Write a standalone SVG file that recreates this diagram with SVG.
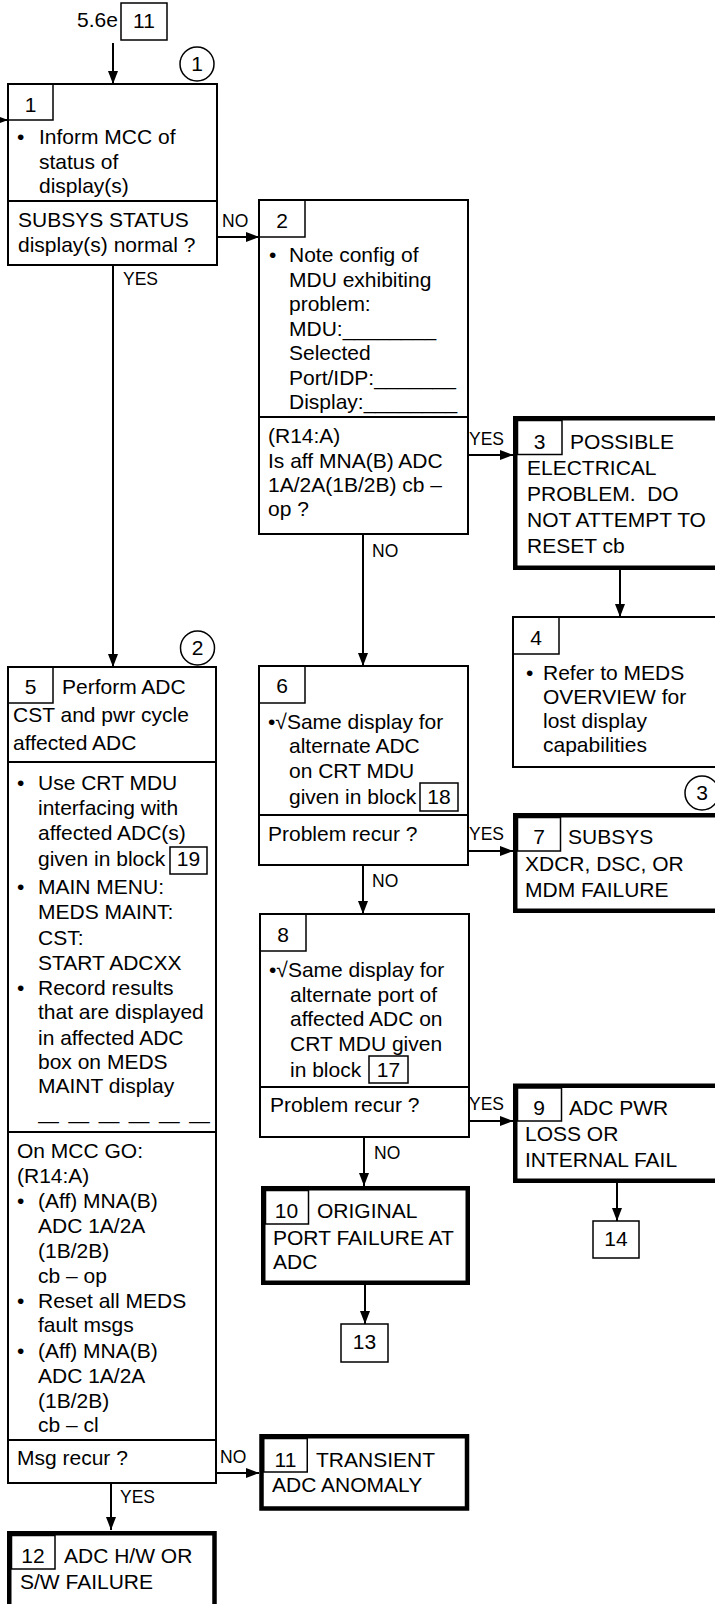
<svg xmlns="http://www.w3.org/2000/svg" width="715" height="1604" viewBox="0 0 715 1604">
<defs>
<marker id="ah" markerUnits="userSpaceOnUse" markerWidth="13" markerHeight="10" refX="13" refY="5" orient="auto">
<path d="M0,0 L13,5 L0,10 z" fill="#000"/>
</marker>
<style>
text{font-family:"Liberation Sans",Arial,sans-serif;font-size:21px;fill:#000}
.lbl{font-size:17.5px}
.c{text-anchor:middle}
.box{fill:#fff;stroke:#000;stroke-width:2}
.thick{fill:#fff;stroke:#000;stroke-width:4.5}
.tag{fill:none;stroke:#000;stroke-width:1.5}
.div{stroke:#000;stroke-width:2}
.conn{fill:none;stroke:#000;stroke-width:2;marker-end:url(#ah)}
.circ{fill:#fff;stroke:#000;stroke-width:1.5}
.pre{white-space:pre}
</style>
</defs>
<rect width="715" height="1604" fill="#fff"/>

<g id="connectors">
<path class="conn" d="M113 43 V84"/>
<path class="conn" d="M-10 120 H8"/>
<path class="conn" d="M217 237 H259"/>
<path class="conn" d="M113 265 V667"/>
<path class="conn" d="M468 455 H513"/>
<path class="conn" d="M363 534 V666"/>
<path class="conn" d="M620 570 V617"/>
<path class="conn" d="M468 851 H513"/>
<path class="conn" d="M363 865 V914"/>
<path class="conn" d="M469 1121 H513"/>
<path class="conn" d="M364 1137 V1186"/>
<path class="conn" d="M617 1183 V1221"/>
<path class="conn" d="M365 1285 V1324"/>
<path class="conn" d="M216 1473 H259"/>
<path class="conn" d="M111 1483 V1530"/>
<text class="lbl" x="222" y="227">NO</text>
<text class="lbl" x="123" y="285">YES</text>
<text class="lbl" x="469" y="445">YES</text>
<text class="lbl" x="372" y="557">NO</text>
<text class="lbl" x="469" y="840">YES</text>
<text class="lbl" x="372" y="887">NO</text>
<text class="lbl" x="469" y="1110">YES</text>
<text class="lbl" x="374" y="1159">NO</text>
<text class="lbl" x="220" y="1463">NO</text>
<text class="lbl" x="120" y="1503">YES</text>
</g>

<g id="entry">
<text x="77" y="27">5.6e</text>
<rect class="tag" x="121" y="3" width="46" height="37"/>
<text class="c" x="144" y="28">11</text>
</g>

<g id="circle1">
<circle class="circ" cx="197" cy="64" r="17"/>
<text class="c" x="197" y="71">1</text>
</g>

<g id="node1">
<rect class="box" x="8" y="84" width="209" height="181"/>
<rect class="tag" x="8" y="84" width="45" height="36"/>
<line class="div" x1="8" y1="201" x2="217" y2="201"/>
<text class="c" x="30.5" y="112">1</text>
<text x="17" y="144">•</text>
<text x="39" y="144">Inform MCC of</text>
<text x="39" y="168.5">status of</text>
<text x="39" y="193">display(s)</text>
<text x="18" y="227">SUBSYS STATUS</text>
<text x="18" y="252">display(s) normal ?</text>
</g>

<g id="node2">
<rect class="box" x="259" y="200" width="209" height="334"/>
<rect class="tag" x="259" y="200" width="46" height="37"/>
<line class="div" x1="259" y1="417" x2="468" y2="417"/>
<text class="c" x="282" y="228">2</text>
<text x="269" y="262">•</text>
<text x="289" y="262">Note config of</text>
<text x="289" y="286.5">MDU exhibiting</text>
<text x="289" y="311">problem:</text>
<text x="289" y="335.5">MDU:________</text>
<text x="289" y="360">Selected</text>
<text x="289" y="384.5">Port/IDP:_______</text>
<text x="289" y="409">Display:________</text>
<text x="268" y="443">(R14:A)</text>
<text x="268" y="467.5">Is aff MNA(B) ADC</text>
<text x="268" y="492">1A/2A(1B/2B) cb –</text>
<text x="268" y="516">op ?</text>
</g>

<g id="node3">
<rect class="thick" x="515.25" y="418.25" width="212" height="149.5"/>
<rect class="tag" x="517.5" y="420.5" width="44.5" height="34"/>
<text class="c" x="539.5" y="449">3</text>
<text x="570" y="449">POSSIBLE</text>
<text x="527" y="475">ELECTRICAL</text>
<text class="pre" x="527" y="501" xml:space="preserve">PROBLEM.  DO</text>
<text x="527" y="527">NOT ATTEMPT TO</text>
<text x="527" y="553">RESET cb</text>
</g>

<g id="node4">
<rect class="box" x="513" y="617" width="212" height="150"/>
<rect class="tag" x="513" y="617" width="46" height="37"/>
<text class="c" x="536" y="645">4</text>
<text x="526" y="680">•</text>
<text x="543" y="680">Refer to MEDS</text>
<text x="543" y="704">OVERVIEW for</text>
<text x="543" y="728">lost display</text>
<text x="543" y="752">capabilities</text>
</g>

<g id="circle3">
<circle class="circ" cx="702" cy="793" r="17"/>
<text class="c" x="702" y="800">3</text>
</g>

<g id="circle2">
<circle class="circ" cx="197.5" cy="648" r="17"/>
<text class="c" x="197.5" y="655">2</text>
</g>

<g id="node5">
<rect class="box" x="8" y="667" width="208" height="816"/>
<rect class="tag" x="8" y="667" width="45" height="36"/>
<line class="div" x1="8" y1="762" x2="216" y2="762"/>
<line class="div" x1="8" y1="1132" x2="216" y2="1132"/>
<line class="div" x1="8" y1="1440" x2="216" y2="1440"/>
<text class="c" x="30.5" y="694">5</text>
<text x="62" y="694">Perform ADC</text>
<text x="13" y="722">CST and pwr cycle</text>
<text x="13" y="750">affected ADC</text>
<text x="17" y="790">•</text>
<text x="38" y="790">Use CRT MDU</text>
<text x="38" y="815">interfacing with</text>
<text x="38" y="840">affected ADC(s)</text>
<text x="38" y="866">given in block</text>
<rect class="tag" x="170" y="847" width="37" height="27"/>
<text class="c" x="188.5" y="866">19</text>
<text x="17" y="894">•</text>
<text x="38" y="894">MAIN MENU:</text>
<text x="38" y="919">MEDS MAINT:</text>
<text x="38" y="944.5">CST:</text>
<text x="38" y="970">START ADCXX</text>
<text x="17" y="995">•</text>
<text x="38" y="995">Record results</text>
<text x="38" y="1019">that are displayed</text>
<text x="38" y="1044.5">in affected ADC</text>
<text x="38" y="1068.5">box on MEDS</text>
<text x="38" y="1093">MAINT display</text>
<text x="38" y="1128" textLength="172" lengthAdjust="spacing">— — — — — —</text>
<text x="17" y="1158">On MCC GO:</text>
<text x="17" y="1183">(R14:A)</text>
<text x="17" y="1208">•</text>
<text x="38" y="1208">(Aff) MNA(B)</text>
<text x="38" y="1233">ADC 1A/2A</text>
<text x="38" y="1258">(1B/2B)</text>
<text x="38" y="1282.5">cb – op</text>
<text x="17" y="1308">•</text>
<text x="38" y="1308">Reset all MEDS</text>
<text x="38" y="1332">fault msgs</text>
<text x="17" y="1358">•</text>
<text x="38" y="1358">(Aff) MNA(B)</text>
<text x="38" y="1383">ADC 1A/2A</text>
<text x="38" y="1408">(1B/2B)</text>
<text x="38" y="1432">cb – cl</text>
<text x="17" y="1465">Msg recur ?</text>
</g>

<g id="node6">
<rect class="box" x="259" y="666" width="209" height="199"/>
<rect class="tag" x="259" y="666" width="46" height="37"/>
<line class="div" x1="259" y1="815" x2="468" y2="815"/>
<text class="c" x="282" y="693">6</text>
<text x="268" y="729">•√Same display for</text>
<text x="289" y="753">alternate ADC</text>
<text x="289" y="778">on CRT MDU</text>
<text x="289" y="804">given in block</text>
<rect class="tag" x="420" y="783" width="38" height="28"/>
<text class="c" x="439" y="804">18</text>
<text x="268" y="840.5">Problem recur ?</text>
</g>

<g id="node7">
<rect class="thick" x="515.25" y="815.25" width="212" height="95.5"/>
<rect class="tag" x="517.5" y="817.5" width="43" height="33.5"/>
<text class="c" x="539" y="844">7</text>
<text x="568" y="844">SUBSYS</text>
<text x="525" y="870.5">XDCR, DSC, OR</text>
<text x="525" y="897">MDM FAILURE</text>
</g>

<g id="node8">
<rect class="box" x="260" y="914" width="209" height="223"/>
<rect class="tag" x="260" y="914" width="46" height="37"/>
<line class="div" x1="260" y1="1087" x2="469" y2="1087"/>
<text class="c" x="283" y="942">8</text>
<text x="269" y="977">•√Same display for</text>
<text x="290" y="1002">alternate port of</text>
<text x="290" y="1026">affected ADC on</text>
<text x="290" y="1050.5">CRT MDU given</text>
<text x="290" y="1076.5">in block</text>
<rect class="tag" x="369" y="1056" width="39" height="27"/>
<text class="c" x="388.5" y="1077">17</text>
<text x="270" y="1111.5">Problem recur ?</text>
</g>

<g id="node9">
<rect class="thick" x="515.25" y="1085.75" width="212" height="95"/>
<rect class="tag" x="517.5" y="1088" width="44" height="33"/>
<text class="c" x="539" y="1115">9</text>
<text x="569" y="1115">ADC PWR</text>
<text x="525" y="1141">LOSS OR</text>
<text x="525" y="1167">INTERNAL FAIL</text>
</g>

<g id="node14">
<rect class="tag" x="593" y="1221" width="46" height="37"/>
<text class="c" x="616" y="1246">14</text>
</g>

<g id="node10">
<rect class="thick" x="263.25" y="1188.25" width="204.5" height="94.5"/>
<rect class="tag" x="265.5" y="1190.5" width="43" height="33.5"/>
<text class="c" x="286.5" y="1218">10</text>
<text x="317" y="1218">ORIGINAL</text>
<text x="273" y="1244.5">PORT FAILURE AT</text>
<text x="273" y="1269">ADC</text>
</g>

<g id="node13">
<rect class="tag" x="341" y="1324" width="47" height="38"/>
<text class="c" x="364.5" y="1349">13</text>
</g>

<g id="node11">
<rect class="thick" x="261.5" y="1436.25" width="205.5" height="72.25"/>
<rect class="tag" x="263.75" y="1438.5" width="43.5" height="33.5"/>
<text class="c" x="285.5" y="1467">11</text>
<text x="316" y="1467">TRANSIENT</text>
<text x="272" y="1492">ADC ANOMALY</text>
</g>

<g id="node12">
<rect class="thick" x="9.25" y="1533.25" width="205.25" height="100"/>
<rect class="tag" x="11.5" y="1535.5" width="43.5" height="33.5"/>
<text class="c" x="33" y="1563">12</text>
<text x="64" y="1563">ADC H/W OR</text>
<text x="20" y="1589">S/W FAILURE</text>
</g>
</svg>
